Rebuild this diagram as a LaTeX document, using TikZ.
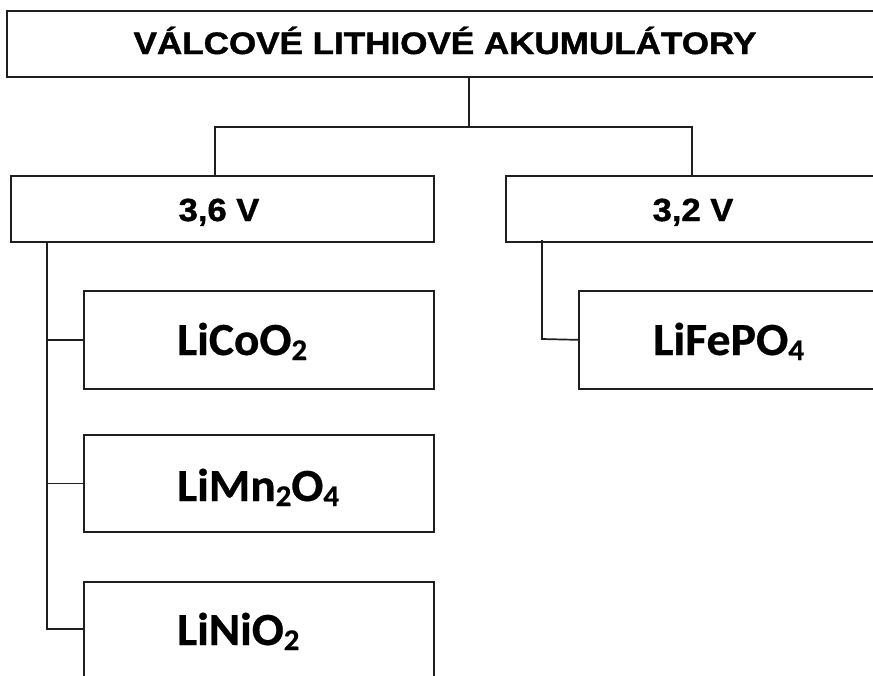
\documentclass[tikz,border=0pt]{standalone}
\usepackage{fontspec}
\setmainfont{Liberation Sans}
\newfontfamily\headfont[FakeBold=1.2]{Liberation Sans Bold}
\newfontfamily\calfont[FakeBold=0.6]{Carlito Bold}
\begin{document}
\begin{tikzpicture}[x=1pt,y=-1pt,
  box/.style={draw=black!88, line width=1.7pt, rectangle, inner sep=0pt, anchor=north west},
  conn/.style={draw=black!88, line width=1.7pt, line cap=rect},
  headtext/.style={anchor=base, inner sep=0pt, font=\headfont\fontsize{31}{31}\selectfont},
  volttext/.style={anchor=base, inner sep=0pt, font=\headfont\fontsize{32}{32}\selectfont},
  chemtext/.style={anchor=base west, inner sep=0pt, font=\calfont\fontsize{46}{46}\selectfont}]
\useasboundingbox (0,0) rectangle (873,675);
\clip (0,0) rectangle (873,675);

% boxes
\node[box, minimum width=900pt, minimum height=66pt] (top) at (6,10) {};
\node[box, minimum width=423pt, minimum height=66pt] (v36) at (10,175) {};
\node[box, minimum width=400pt, minimum height=66pt] (v32) at (505,175) {};
\node[box, minimum width=350pt, minimum height=98pt] (lco) at (83,290) {};
\node[box, minimum width=350pt, minimum height=97pt] (lmo) at (83,434) {};
\node[box, minimum width=350pt, minimum height=120pt] (lno) at (83,581) {};
\node[box, minimum width=320pt, minimum height=98pt] (lfp) at (578,290) {};

% labels
\node[headtext] (ttop) at (445,54) {\scalebox{1.13}[1]{VÁLCOVÉ LITHIOVÉ AKUMULÁTORY}};
\node[volttext] (t36) at (219,221) {\scalebox{1.08}[1]{3,6 V}};
\node[volttext] (t32) at (693,221) {\scalebox{1.08}[1]{3,2 V}};
\newcommand{\chemsub}[1]{{\fontsize{30}{30}\selectfont\raisebox{-5pt}{#1}}}
\node[chemtext] (tlco) at (177,355) {\scalebox{1.03}[1]{LiCoO\chemsub{2}}};
\node[chemtext] (tlmo) at (177,501) {\scalebox{1.03}[1]{LiMn\chemsub{2}O\chemsub{4}}};
\node[chemtext] (tlno) at (177,645) {\scalebox{1.03}[1]{LiNiO\chemsub{2}}};
\node[chemtext] (tlfp) at (653,355) {\scalebox{1.04}[1]{LiFePO\chemsub{4}}};

% junction points
\coordinate (split) at (469,127);
\coordinate (bus36) at (47,629);

% connectors
\draw[conn] (top.south -| split) -- (split);
\draw[conn] (215,127) -- (692,127);
\draw[conn] (215,127) -- (215,175);
\draw[conn] (692,127) -- (692,175);
\draw[conn] (v36.south -| bus36) -- (bus36) -- (lno.west |- bus36);
\draw[conn] (lco.west) -- (lco.west -| bus36);
\draw[conn] (lmo.west) -- (lmo.west -| bus36);
\draw[conn] (542,241) -- (542,339) -- (lfp.west);
\end{tikzpicture}
\end{document}
